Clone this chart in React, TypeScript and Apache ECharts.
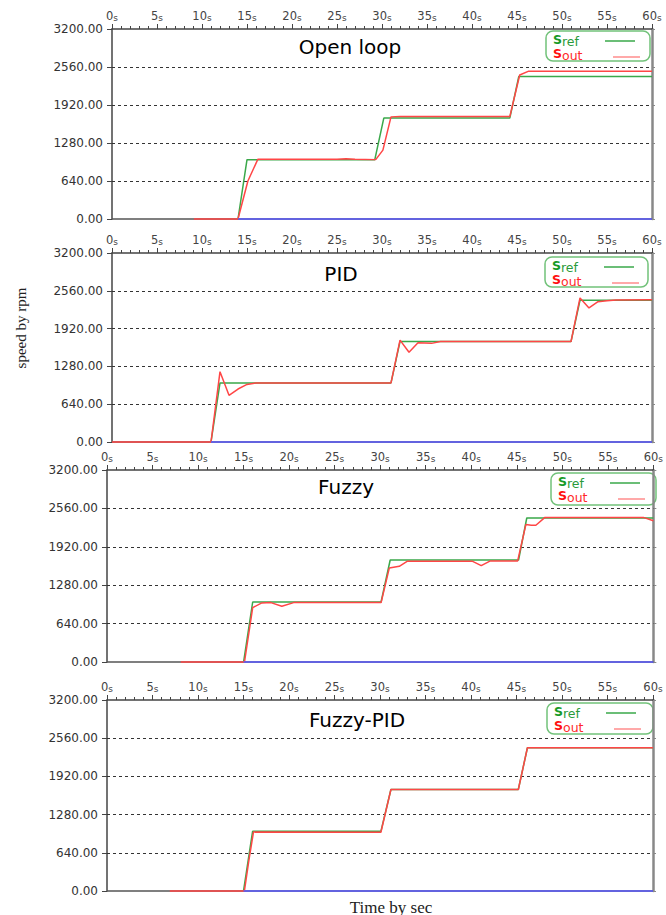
import React, { useEffect, useRef } from "react";
import * as echarts from "echarts";

// ---------- data ----------
const titles = ["Open loop", "PID", "Fuzzy", "Fuzzy-PID"];
const yTicks = [0, 640, 1280, 1920, 2560, 3200];
const gridValues = [640, 1280, 1920, 2560];

// Open loop
const refT1 = [14, 15, 29.2, 30.2, 44.2, 45.2, 60];
const refV1 = [0, 1000, 1000, 1700, 1700, 2400, 2400];
const outT1 = [9.1, 14, 15.1, 16.2, 25, 26, 27, 29.3, 30.1, 31, 32, 44.2, 45.3, 46.3, 60];
const outV1 = [0, 0, 640, 1005, 1005, 1015, 1005, 1000, 1160, 1720, 1725, 1725, 2425, 2490, 2490];
// PID
const refT2 = [11, 12, 31, 32, 51, 52, 60];
const refV2 = [0, 1000, 1000, 1700, 1700, 2400, 2400];
const outT2 = [0, 11, 12, 13, 14, 15, 16, 31, 32, 33, 34, 35.5, 36.5, 51, 52, 53, 54, 55, 56, 60];
const outV2 = [0, 0, 1190, 790, 897, 975, 1000, 1000, 1725, 1520, 1680, 1670, 1700, 1700, 2440, 2270, 2375, 2392, 2405, 2410];
// Fuzzy
const refT3 = [15, 16, 30.1, 31.1, 45.2, 46.1, 60];
const refV3 = [0, 1000, 1000, 1700, 1700, 2400, 2400];
const outT3 = [8.1, 15.1, 16, 17, 18, 19.2, 20.5, 22, 30.1, 31, 32.1, 33, 40.1, 41.1, 42.1, 45.1, 46, 46.6, 47.1, 48.1, 58.9, 60];
const outV3 = [0, 0, 905, 985, 990, 930, 990, 990, 990, 1565, 1595, 1680, 1680, 1605, 1685, 1685, 2290, 2280, 2280, 2410, 2410, 2355];
// Fuzzy-PID
const refT4 = [15, 16, 30.1, 31.2, 45.2, 46.2, 60];
const refV4 = [0, 1000, 1000, 1700, 1700, 2400, 2400];
const outT4 = [6.9, 15.1, 15.6, 16.1, 30.1, 31.2, 45.2, 46.2, 60];
const outV4 = [0, 0, 520, 990, 985, 1700, 1700, 2400, 2400];

// zero (blue) line start times
const zeroStart = [14, 11, 15, 15];

const refTs = [refT1, refT2, refT3, refT4];
const refVs = [refV1, refV2, refV3, refV4];
const outTs = [outT1, outT2, outT3, outT4];
const outVs = [outV1, outV2, outV3, outV4];

// ---------- layout ----------
const grids = [
  { left: 112, top: 29, width: 540, height: 190 },
  { left: 112, top: 253, width: 540, height: 189 },
  { left: 107, top: 470, width: 552, height: 192 },
  { left: 107, top: 700, width: 546, height: 191 },
];
const titlePos = [
  [350, 47],
  [341, 274],
  [346, 487],
  [357, 720],
];
const legendBox = [
  [546, 31, 104, 30],
  [545, 257, 103, 30],
  [551, 473, 105, 32],
  [547, 703, 106, 31],
];

const GREEN = "#3aa84a";
const RED = "#ff4646";
const BLUE = "#5a5aff";
const FONT = '"DejaVu Sans", Verdana, sans-serif';

function zip(t: number[], v: number[]) {
  return t.map((x, i) => [x, v[i]]);
}

function legendGroup(b: number[]) {
  const [x, y, w, h] = b;
  return {
    type: "group",
    x,
    y,
    z: 100,
    children: [
      {
        type: "rect",
        shape: { x: 0, y: 0, width: w, height: h, r: 7 },
        style: { fill: "#fff", stroke: "#72c27a", lineWidth: 1.5 },
      },
      {
        type: "text",
        x: 7,
        y: 8,
        style: { text: "S", fill: "#169a26", fontSize: 12.5, fontWeight: "bold", fontFamily: FONT, verticalAlign: "middle" },
      },
      {
        type: "text",
        x: 16,
        y: 10,
        style: { text: "ref", fill: "#2a9a3a", fontSize: 12.5, fontFamily: FONT, verticalAlign: "middle" },
      },
      {
        type: "line",
        shape: { x1: 59, y1: 10, x2: 89, y2: 10 },
        style: { stroke: GREEN, lineWidth: 1.5 },
      },
      {
        type: "text",
        x: 7,
        y: 22,
        style: { text: "S", fill: "#ff1010", fontSize: 12.5, fontWeight: "bold", fontFamily: FONT, verticalAlign: "middle" },
      },
      {
        type: "text",
        x: 16,
        y: 24,
        style: { text: "out", fill: "#ff2a2a", fontSize: 12.5, fontFamily: FONT, verticalAlign: "middle" },
      },
      {
        type: "line",
        shape: { x1: 67, y1: 26, x2: 94, y2: 26 },
        style: { stroke: "#ff8c8c", lineWidth: 1.5 },
      },
    ],
  };
}

export default function App() {
  const ref = useRef<HTMLDivElement>(null);
  useEffect(() => {
    if (!ref.current) return;
    const chart = echarts.init(ref.current, null, { renderer: "svg" });

    const xAxis: any[] = [];
    const yAxis: any[] = [];
    const series: any[] = [];
    const graphic: any[] = [];

    grids.forEach((g, i) => {
      xAxis.push({
        type: "value",
        gridIndex: i,
        position: "top",
        min: 0,
        max: 60,
        interval: 5,
        axisLine: { show: true, onZero: false, lineStyle: { color: "#444", width: 1.5 } },
        axisTick: { show: true, length: 5, lineStyle: { color: "#444" } },
        minorTick: { show: true, splitNumber: 5, length: 3, lineStyle: { color: "#444" } },
        splitLine: { show: false },
        axisLabel: {
          margin: 7,
          formatter: (v: number) => `{n|${v}}{s|s}`,
          rich: {
            n: { fontSize: 11.5, color: "#444", fontFamily: FONT },
            s: { fontSize: 9, color: "#444", fontFamily: FONT, verticalAlign: "bottom" },
          },
        },
      });
      yAxis.push({
        type: "value",
        gridIndex: i,
        position: "left",
        min: yTicks[0],
        max: yTicks[yTicks.length - 1],
        interval: yTicks[1] - yTicks[0],
        axisLine: { show: true, onZero: false, lineStyle: { color: "#444", width: 1.5 } },
        axisTick: { show: true, length: 5, lineStyle: { color: "#444" } },
        axisLabel: {
          margin: 9,
          color: "#333",
          fontSize: 12,
          fontFamily: FONT,
          formatter: (v: number) => v.toFixed(2),
        },
        splitLine: { show: false },
      });
      yAxis.push({
        type: "value",
        gridIndex: i,
        position: "right",
        min: yTicks[0],
        max: yTicks[yTicks.length - 1],
        interval: yTicks[1] - yTicks[0],
        axisLine: { show: true, onZero: false, lineStyle: { color: "#888", width: 2.5 } },
        axisTick: { show: true, length: 3, lineStyle: { color: "#888" } },
        axisLabel: { show: false },
        splitLine: { show: false },
      });

      // baseline (bottom frame) at zero
      series.push({
        type: "line",
        name: "base",
        xAxisIndex: i,
        yAxisIndex: 2 * i,
        data: [
          [0, 0],
          [60, 0],
        ],
        symbol: "none",
        clip: false,
        silent: true,
        lineStyle: { color: "#555", width: 1.5 },
        z: 2,
        markLine: {
          silent: true,
          symbol: "none",
          label: { show: false },
          lineStyle: { color: "#333", type: [3, 3], width: 1 },
          data: gridValues.map((v) => ({ yAxis: v })),
          z: 1,
        },
      });
      series.push({
        type: "line",
        name: "Sref",
        xAxisIndex: i,
        yAxisIndex: 2 * i,
        data: zip(refTs[i], refVs[i]),
        symbol: "none",
        clip: false,
        lineStyle: { color: GREEN, width: 1.5 },
        z: 3,
      });
      series.push({
        type: "line",
        name: "Sout",
        xAxisIndex: i,
        yAxisIndex: 2 * i,
        data: zip(outTs[i], outVs[i]),
        symbol: "none",
        clip: false,
        lineStyle: { color: RED, width: 1.5 },
        z: 4,
      });
      series.push({
        type: "line",
        name: "zero",
        xAxisIndex: i,
        yAxisIndex: 2 * i,
        data: [
          [zeroStart[i], 0],
          [60, 0],
        ],
        symbol: "none",
        clip: false,
        lineStyle: { color: BLUE, width: 1.5 },
        z: 5,
      });

      graphic.push({
        type: "text",
        x: titlePos[i][0],
        y: titlePos[i][1],
        z: 100,
        style: {
          text: titles[i],
          fill: "#000",
          fontSize: 20,
          fontFamily: FONT,
          align: "center",
          verticalAlign: "middle",
        },
      });
      graphic.push(legendGroup(legendBox[i]));
    });

    graphic.push({
      type: "text",
      x: 21,
      y: 328,
      rotation: Math.PI / 2,
      style: {
        text: "speed by rpm",
        fill: "#222",
        fontSize: 15,
        fontFamily: '"Liberation Serif", "DejaVu Serif", serif',
        align: "center",
        verticalAlign: "middle",
      },
    });
    graphic.push({
      type: "text",
      x: 391,
      y: 907,
      style: {
        text: "Time by sec",
        fill: "#222",
        fontSize: 17,
        fontFamily: '"Liberation Serif", "DejaVu Serif", serif',
        align: "center",
        verticalAlign: "middle",
      },
    });

    chart.setOption({
      animation: false,
      backgroundColor: "#fff",
      grid: grids.map((g) => ({ ...g, containLabel: false })),
      xAxis,
      yAxis,
      series,
      graphic,
    });
    return () => chart.dispose();
  }, []);

  return (
    <div
      ref={ref}
      style={{ position: "absolute", left: 0, top: 0, width: 666, height: 915, background: "#fff" }}
    />
  );
}
